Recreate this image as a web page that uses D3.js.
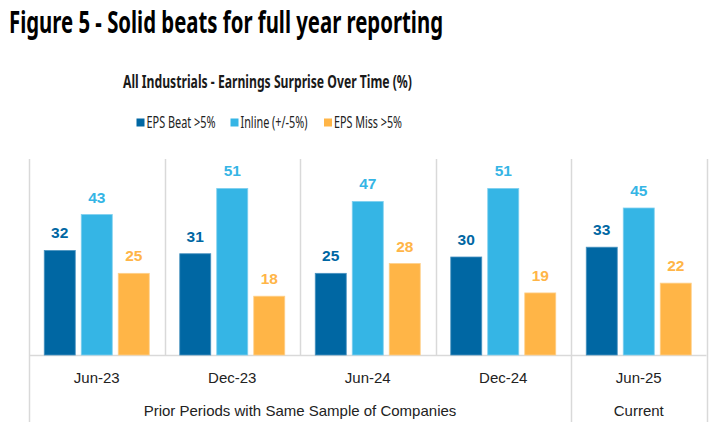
<!DOCTYPE html>
<html>
<head>
<meta charset="utf-8">
<script src="https://cdn.jsdelivr.net/npm/d3@7"></script>
<style>
  body { margin: 0; background: #fff; }
  svg { display: block; font-family: "Liberation Sans", Arial, sans-serif; }
</style>
</head>
<body>
<svg id="chart"></svg>
<script>
const categories = ["Jun-23", "Dec-23", "Jun-24", "Dec-24", "Jun-25"];
const seriesNames = ["EPS Beat >5%", "Inline (+/-5%)", "EPS Miss >5%"];
const epsBeat = [32, 31, 25, 30, 33];
const inline = [43, 51, 47, 51, 45];
const epsMiss = [25, 18, 28, 19, 22];
const groupLabels = ["Prior Periods with Same Sample of Companies", "Current"];
const groupSpans = [["Jun-23", "Dec-24"], ["Jun-25", "Jun-25"]];

const colors = ["#0067a3", "#35b5e5", "#ffb547"];
const borders = ["#4a93c0", "#7fd0ef", "#ffd08a"];

const width = 727, height = 437;
const plotLeft = 29, plotRight = 706.5, plotTop = 159, base = 355, plotBottom = 422;

const svg = d3.select("#chart")
  .attr("width", width)
  .attr("height", height);

const values = [epsBeat, inline, epsMiss];
const data = categories.map((c, i) => ({
  cat: c,
  vals: seriesNames.map((s, k) => ({ name: s, k, value: values[k][i] }))
}));

const x0 = d3.scaleBand().domain(categories).range([plotLeft, plotRight]);
const x1 = d3.scaleBand().domain(seriesNames)
  .range([0, x0.bandwidth()])
  .paddingInner(0.162)
  .paddingOuter(0.412);
const y = d3.scaleLinear().domain([0, 60]).range([base, plotTop]);

// titles
svg.append("text")
  .attr("x", 9).attr("y", 33)
  .attr("font-family", "'Noto Sans', sans-serif")
  .attr("font-weight", "bold")
  .attr("font-size", 29.5)
  .attr("textLength", 434)
  .attr("lengthAdjust", "spacingAndGlyphs")
  .attr("fill", "#000")
  .text("Figure 5 - Solid beats for full year reporting");

svg.append("text")
  .attr("x", 123).attr("y", 87.5)
  .attr("font-family", "'Noto Sans', sans-serif")
  .attr("font-weight", "bold")
  .attr("font-size", 17)
  .attr("textLength", 289)
  .attr("lengthAdjust", "spacingAndGlyphs")
  .attr("fill", "#1a1a1a")
  .text("All Industrials - Earnings Surprise Over Time (%)");

// legend
const legendX = [136.5, 230.5, 324];
const legendW = [69, 67, 68];
const legend = svg.append("g")
  .selectAll("g")
  .data(seriesNames)
  .join("g")
  .attr("transform", (d, i) => `translate(${legendX[i]},${122.5})`);
legend.append("rect")
  .attr("x", 0).attr("y", -4)
  .attr("width", 8).attr("height", 8)
  .attr("fill", (d, i) => colors[i]);
legend.append("text")
  .attr("x", 10).attr("y", 5.5)
  .attr("font-family", "'Noto Sans', sans-serif")
  .attr("font-size", 15.5)
  .attr("textLength", (d, i) => legendW[i])
  .attr("lengthAdjust", "spacingAndGlyphs")
  .attr("fill", "#222")
  .text(d => d);

// grid lines
const gridColor = "#d9d9d9";
const boundaries = categories.map(c => x0(c)).concat([plotRight]);
const groupEdges = new Set([plotLeft, plotRight]);
groupSpans.forEach(s => groupEdges.add(x0(s[0])));

svg.append("g")
  .selectAll("line")
  .data(boundaries)
  .join("line")
  .attr("x1", d => Math.round(d) + 0.5)
  .attr("x2", d => Math.round(d) + 0.5)
  .attr("y1", plotTop)
  .attr("y2", d => groupEdges.has(d) ? plotBottom : base)
  .attr("stroke", gridColor)
  .attr("stroke-width", 1.5);

svg.append("line")
  .attr("x1", plotLeft).attr("x2", plotRight)
  .attr("y1", base + 0.5).attr("y2", base + 0.5)
  .attr("stroke", gridColor)
  .attr("stroke-width", 1.5);

// bars
const groups = svg.append("g")
  .selectAll("g")
  .data(data)
  .join("g")
  .attr("transform", d => `translate(${x0(d.cat)},0)`);

groups.selectAll("rect")
  .data(d => d.vals)
  .join("rect")
  .attr("x", d => x1(d.name))
  .attr("y", d => y(d.value))
  .attr("width", x1.bandwidth())
  .attr("height", d => base - y(d.value))
  .attr("fill", d => colors[d.k])
  .attr("stroke", d => borders[d.k])
  .attr("stroke-width", 0.8);

groups.selectAll("text")
  .data(d => d.vals)
  .join("text")
  .attr("x", d => x1(d.name) + x1.bandwidth() / 2)
  .attr("y", d => y(d.value) - 12)
  .attr("text-anchor", "middle")
  .attr("font-weight", "bold")
  .attr("font-size", 15.5)
  .attr("fill", d => colors[d.k])
  .text(d => d.value);

// category labels
svg.append("g")
  .selectAll("text")
  .data(categories)
  .join("text")
  .attr("x", d => x0(d) + x0.bandwidth() / 2)
  .attr("y", 383)
  .attr("text-anchor", "middle")
  .attr("font-size", 15)
  .attr("fill", "#222")
  .text(d => d);

// group labels
svg.append("g")
  .selectAll("text")
  .data(groupLabels)
  .join("text")
  .attr("x", (d, i) => (x0(groupSpans[i][0]) + x0(groupSpans[i][1]) + x0.bandwidth()) / 2)
  .attr("y", 416)
  .attr("text-anchor", "middle")
  .attr("font-size", 15)
  .attr("fill", "#222")
  .text(d => d);
</script>
</body>
</html>
